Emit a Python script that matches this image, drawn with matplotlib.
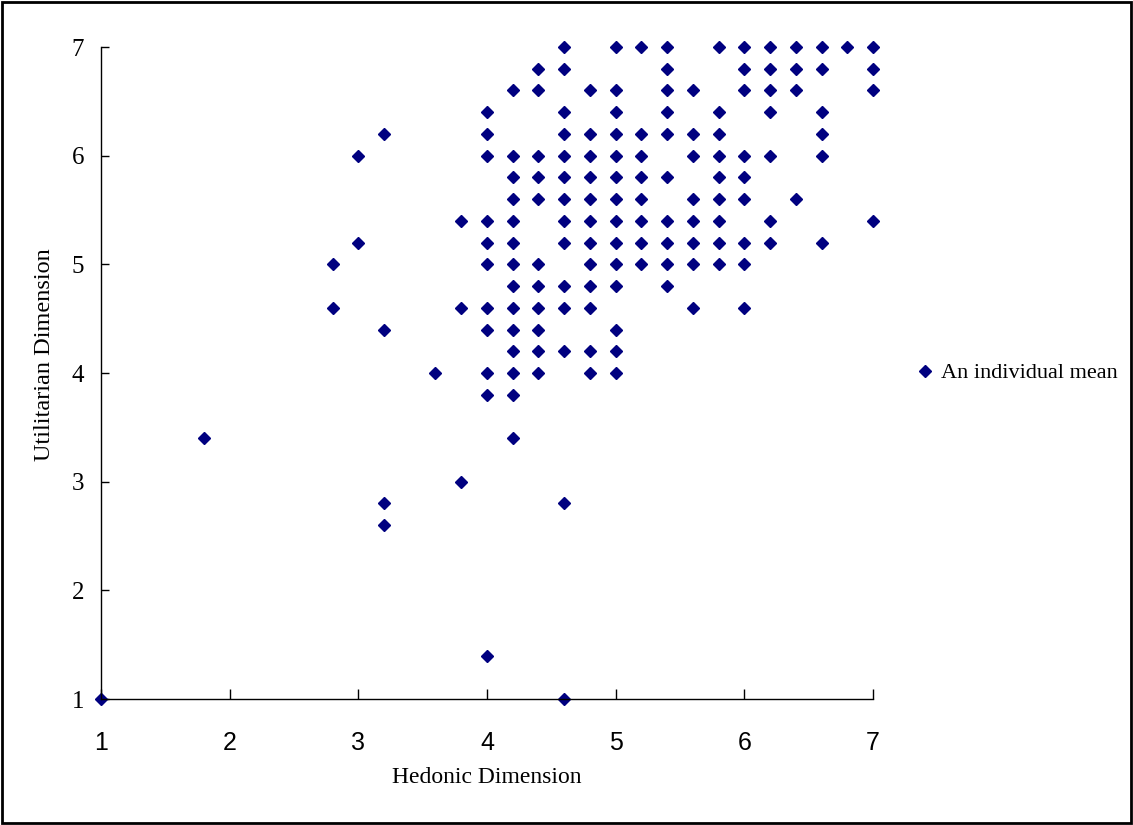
import matplotlib
matplotlib.use('Agg')
import matplotlib.pyplot as plt
from matplotlib.patches import Rectangle

# Utilitarian level (y) and the hedonic means (x) seen at that level
util_levels = [7.0, 6.8, 6.6, 6.4, 6.2, 6.0, 5.8, 5.6, 5.4, 5.2, 5.0, 4.8,
               4.6, 4.4, 4.2, 4.0, 3.8, 3.4, 3.0, 2.8, 2.6, 1.4, 1.0]
hedonic_rows = [
    [4.6, 5.0, 5.2, 5.4, 5.8, 6.0, 6.2, 6.4, 6.6, 6.8, 7.0],
    [4.4, 4.6, 5.4, 6.0, 6.2, 6.4, 6.6, 7.0],
    [4.2, 4.4, 4.8, 5.0, 5.4, 5.6, 6.0, 6.2, 6.4, 7.0],
    [4.0, 4.6, 5.0, 5.4, 5.8, 6.2, 6.6],
    [3.2, 4.0, 4.6, 4.8, 5.0, 5.2, 5.4, 5.6, 5.8, 6.6],
    [3.0, 4.0, 4.2, 4.4, 4.6, 4.8, 5.0, 5.2, 5.6, 5.8, 6.0, 6.2, 6.6],
    [4.2, 4.4, 4.6, 4.8, 5.0, 5.2, 5.4, 5.8, 6.0],
    [4.2, 4.4, 4.6, 4.8, 5.0, 5.2, 5.6, 5.8, 6.0, 6.4],
    [3.8, 4.0, 4.2, 4.6, 4.8, 5.0, 5.2, 5.4, 5.6, 5.8, 6.2, 7.0],
    [3.0, 4.0, 4.2, 4.6, 4.8, 5.0, 5.2, 5.4, 5.6, 5.8, 6.0, 6.2, 6.6],
    [2.8, 4.0, 4.2, 4.4, 4.8, 5.0, 5.2, 5.4, 5.6, 5.8, 6.0],
    [4.2, 4.4, 4.6, 4.8, 5.0, 5.4],
    [2.8, 3.8, 4.0, 4.2, 4.4, 4.6, 4.8, 5.6, 6.0],
    [3.2, 4.0, 4.2, 4.4, 5.0],
    [4.2, 4.4, 4.6, 4.8, 5.0],
    [3.6, 4.0, 4.2, 4.4, 4.8, 5.0],
    [4.0, 4.2],
    [1.8, 4.2],
    [3.8],
    [3.2, 4.6],
    [3.2],
    [4.0],
    [1.0, 4.6],
]
ticks = [1, 2, 3, 4, 5, 6, 7]

hedonic = []
utilitarian = []
for level, row in zip(util_levels, hedonic_rows):
    hedonic += row
    utilitarian += [level] * len(row)

plt.rcParams['font.family'] = ['Liberation Serif', 'DejaVu Serif']

fig = plt.figure(figsize=(11.33, 8.25), dpi=100)
ax = fig.add_axes([0.0891, 0.1527, 0.6814, 0.7903])

ax.plot(hedonic, utilitarian, linestyle='none', marker='D', markersize=6.5,
        color='#000080', label='An individual mean', clip_on=False)

ax.set_xlim(1, 7)
ax.set_ylim(1, 7)
ax.set_xticks(ticks)
ax.set_yticks(ticks)

ax.spines['top'].set_visible(False)
ax.spines['right'].set_visible(False)
ax.spines['left'].set_linewidth(1.0)
ax.spines['bottom'].set_linewidth(1.0)

# both axes have their ticks pointing into the plot
ax.tick_params(axis='y', direction='in', length=6, width=1.0, pad=12, labelsize=18)
ax.tick_params(axis='x', direction='in', length=7, width=1.0, pad=23, labelsize=18)
for lab in ax.get_xticklabels():
    lab.set_family('Liberation Sans')

ax.set_xlabel('Hedonic Dimension', fontsize=17)
ax.set_ylabel('Utilitarian Dimension', fontsize=17.5)
ax.xaxis.set_label_coords(0.5, -0.104)
ax.yaxis.set_label_coords(-0.0596, 0.528)

fig.legend(loc='center left', bbox_to_anchor=(918 / 1133, 1 - 373 / 825),
           frameon=False, fontsize=16, handlelength=0.6, handletextpad=0.45,
           borderpad=0, borderaxespad=0)

# outer frame around the whole picture
fig.patches.append(Rectangle((0.0015, 0.002), 0.997, 0.996, transform=fig.transFigure,
                             fill=False, edgecolor='black', linewidth=2))

fig.savefig('out.png', dpi=100)
